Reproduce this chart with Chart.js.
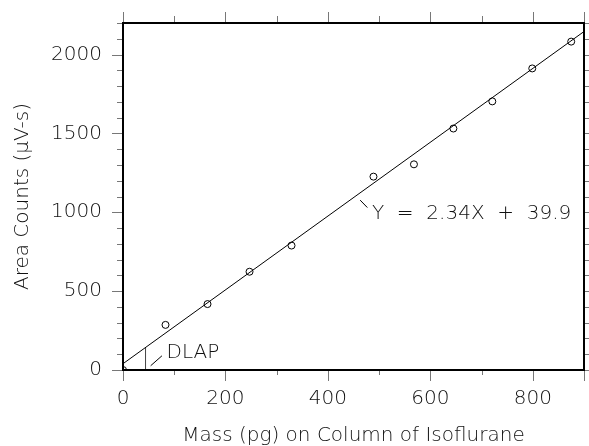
<!DOCTYPE html>
<html>
<head>
<meta charset="utf-8">
<script src="https://cdn.jsdelivr.net/npm/chart.js@4"></script>
<style>
  html, body { margin: 0; padding: 0; background: #fff; }
  #wrap { width: 589px; height: 446px; }
</style>
</head>
<body>
<div id="wrap"><canvas id="chart"></canvas></div>
<script>
// measured points
const massPg = [0, 83, 165, 247, 329, 489, 568, 645, 721, 799, 875]
const areaCounts = [0, 286, 418, 623, 789, 1226, 1304, 1531, 1703, 1912, 2082]

// regression line Y = 2.34X + 39.9 (end points)
const fitX = [0, 900]
const fitY = [39.9, 2146]

// detection limit marker
const dlapX = [44, 44]
const dlapY = [0, 143]

const xTicks = [0, 100, 200, 300, 400, 500, 600, 700, 800, 900]
const xMajor = [0, 200, 400, 600, 800, 900]
const yTicks = [0, 100, 200, 300, 400, 500, 600, 700, 800, 900, 1000, 1100,
  1200, 1300, 1400, 1500, 1600, 1700, 1800, 1900, 2000, 2100, 2200]
const yMajor = [0, 500, 1000, 1500, 2000]

const FONT = 'DejaVu Sans'
const toXY = (xs, ys) => xs.map((x, i) => ({ x: x, y: ys[i] }))

const noPad = (s) => {
  s.paddingTop = 0
  s.paddingBottom = 0
  s.paddingLeft = 0
  s.paddingRight = 0
}

const frame = {
  id: 'frame',
  afterDraw(chart) {
    const { ctx, chartArea: a, scales } = chart
    const xs = scales.x
    const ys = scales.y
    ctx.save()
    // tick marks, outward on all four sides
    ctx.strokeStyle = '#777'
    ctx.lineWidth = 1
    ctx.beginPath()
    xTicks.forEach((v) => {
      const px = Math.round(xs.getPixelForValue(v)) + 0.5
      const big = xMajor.includes(v)
      ctx.moveTo(px, a.bottom)
      ctx.lineTo(px, a.bottom + (big ? 11 : 5))
      ctx.moveTo(px, a.top)
      ctx.lineTo(px, a.top - (big ? 11 : 7))
    })
    yTicks.forEach((v) => {
      const py = Math.round(ys.getPixelForValue(v)) + 0.5
      const big = yMajor.includes(v)
      ctx.moveTo(a.left, py)
      ctx.lineTo(a.left - (big ? 11 : 6), py)
      ctx.moveTo(a.right, py)
      ctx.lineTo(a.right + (big ? 11 : 6), py)
    })
    ctx.stroke()
    // box
    ctx.strokeStyle = '#000'
    ctx.lineWidth = 2
    ctx.strokeRect(a.left, a.top, a.right - a.left, a.bottom - a.top)

    // leaders + notes
    ctx.lineWidth = 1
    ctx.beginPath()
    ctx.moveTo(xs.getPixelForValue(463), ys.getPixelForValue(1077))
    ctx.lineTo(xs.getPixelForValue(477), ys.getPixelForValue(1030))
    ctx.moveTo(xs.getPixelForValue(54), ys.getPixelForValue(27))
    ctx.lineTo(xs.getPixelForValue(76), ys.getPixelForValue(90))
    ctx.stroke()

    ctx.fillStyle = '#111'
    ctx.font = '200 20px "' + FONT + '"'
    ctx.textAlign = 'left'
    ctx.textBaseline = 'middle'
    ctx.fillText('Y  =  2.34X  +  39.9', xs.getPixelForValue(486), ys.getPixelForValue(990))
    ctx.fillText('DLAP', xs.getPixelForValue(85), ys.getPixelForValue(110))
    ctx.restore()
  },
}

new Chart(document.getElementById('chart'), {
  type: 'scatter',
  data: {
    datasets: [
      {
        label: 'points',
        data: toXY(massPg, areaCounts),
        pointStyle: 'circle',
        pointRadius: 3.5,
        pointBorderWidth: 1,
        borderColor: '#000',
        backgroundColor: 'rgba(0,0,0,0)',
        showLine: false,
      },
      {
        label: 'fit',
        data: toXY(fitX, fitY),
        showLine: true,
        pointRadius: 0,
        borderColor: '#000',
        borderWidth: 1,
      },
      {
        label: 'dlap',
        data: toXY(dlapX, dlapY),
        showLine: true,
        pointRadius: 0,
        borderColor: '#444',
        borderWidth: 1,
      },
    ],
  },
  options: {
    responsive: true,
    maintainAspectRatio: false,
    animation: false,
    events: [],
    layout: { padding: { top: 23, right: 4, left: 0, bottom: 0 } },
    plugins: { legend: { display: false }, tooltip: { enabled: false } },
    scales: {
      x: {
        type: 'linear',
        min: 0,
        max: 900,
        border: { display: false },
        grid: { display: false, drawTicks: false },
        afterBuildTicks: (s) => { s.ticks = xTicks.map((v) => ({ value: v })) },
        afterFit: (s) => { s.height = 76; noPad(s) },
        ticks: {
          padding: 19,
          color: '#111',
          font: { family: FONT, size: 20, weight: 200, lineHeight: 1 },
          callback: (v) => (v % 200 === 0 ? String(v) : ''),
          maxRotation: 0,
          autoSkip: false,
        },
        title: {
          display: true,
          text: 'Mass (pg) on Column of Isoflurane',
          color: '#111',
          font: { family: FONT, size: 20, weight: 200, lineHeight: 1 },
          padding: { top: 0, bottom: 0 },
        },
      },
      y: {
        type: 'linear',
        min: 0,
        max: 2200,
        border: { display: false },
        grid: { display: false, drawTicks: false },
        afterBuildTicks: (s) => { s.ticks = yTicks.map((v) => ({ value: v })) },
        afterFit: (s) => { s.width = 123; noPad(s) },
        ticks: {
          padding: 21,
          color: '#111',
          font: { family: FONT, size: 20, weight: 200, lineHeight: 1 },
          callback: (v) => (v % 500 === 0 ? String(v) : ''),
          autoSkip: false,
        },
        title: {
          display: true,
          text: 'Area Counts (µV-s)',
          color: '#111',
          font: { family: FONT, size: 20, weight: 200, lineHeight: 1 },
          padding: { top: 13, bottom: 0 },
        },
      },
    },
  },
  plugins: [frame],
})
</script>
</body>
</html>
